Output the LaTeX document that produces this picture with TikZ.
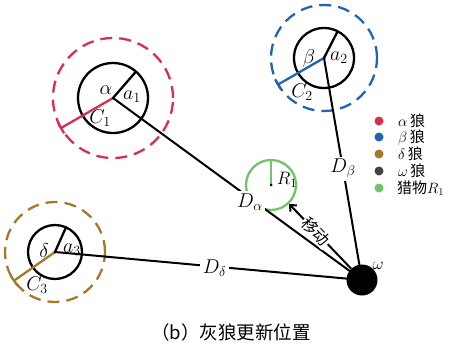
\RequirePackage{fix-cm}
\documentclass[tikz,border=0pt]{standalone}
\usepackage{fontspec}
\newfontfamily\cjk{Noto Sans CJK SC}
\usetikzlibrary{calc,arrows.meta}
\definecolor{alphared}{RGB}{214,48,80}
\definecolor{betablue}{RGB}{34,100,180}
\definecolor{deltabrown}{RGB}{166,120,44}
\definecolor{omegagray}{RGB}{62,66,76}
\definecolor{preygreen}{RGB}{112,198,102}
\begin{document}
\begin{tikzpicture}[x=1pt,y=-1pt,
  wolfring/.style={circle, draw=black, line width=2.3pt, inner sep=0pt},
  searchring/.style={line width=2.3pt, dash pattern=on 12pt off 7pt},
  link/.style={draw=black, line width=2pt},
  radius line/.style={line width=2.3pt},
  mathlbl/.style={font=\fontsize{20}{22}\selectfont, inner sep=0pt},
  dlbl/.style={fill=white, inner sep=2.5pt, font=\fontsize{20}{22}\selectfont},
  legdot/.style={circle, inner sep=0pt, minimum size=9pt},
  legtxt/.style={anchor=west, inner sep=0pt, font=\fontsize{15}{16}\selectfont\cjk},
  centerdot/.style={circle, fill=black, inner sep=0pt, minimum size=3pt}
]
\useasboundingbox (0,0) rectangle (452,348);

% search ranges (dashed)
\draw[searchring, alphared] (113,98) circle[radius=60pt];
\draw[searchring, betablue] (324,58) circle[radius=53pt];
\draw[searchring, deltabrown] (55,252) circle[radius=50pt];

% leader wolves
\node[wolfring, minimum size=70pt] (A) at (113,98) {};
\node[wolfring, minimum size=60pt] (B) at (324,58) {};
\node[wolfring, minimum size=54pt] (Dl) at (55,252) {};

% C radii with end ticks
\draw[radius line, alphared] (A.center) -- ($(A.center)+(150:60)$);
\draw[radius line, alphared] ($(A.center)+(150:60)+(60:6)$) -- ($(A.center)+(150:60)+(240:6)$);
\draw[radius line, betablue] (B.center) -- ($(B.center)+(150:53)$);
\draw[radius line, betablue] ($(B.center)+(150:53)+(60:6)$) -- ($(B.center)+(150:53)+(240:6)$);
\draw[radius line, deltabrown] (Dl.center) -- ($(Dl.center)+(145:50)$);
\draw[radius line, deltabrown] ($(Dl.center)+(145:50)+(55:6)$) -- ($(Dl.center)+(145:50)+(235:6)$);

% a radii
\draw[radius line] (A.center) -- ($(A.center)+(-49:35)$);
\draw[radius line] (B.center) -- ($(B.center)+(-63:30)$);
\draw[radius line] (Dl.center) -- ($(Dl.center)+(-66:27)$);

% prey
\node[circle, draw=preygreen, line width=2.3pt, minimum size=50pt, inner sep=0pt] (P) at (271,185) {};
\draw[preygreen, line width=2pt] (P.center) -- (P.north);
\node[centerdot] at (P.center) {};

% omega wolf
\node[circle, fill=black, minimum size=31pt, inner sep=0pt] (W) at (362,280) {};

% distances to omega
\draw[link] (A.center) -- (W.center) node[dlbl, pos=0.55, yshift=-4pt] {$D_\alpha$};
\draw[link] (B.center) -- (W.center) node[dlbl, pos=0.5] {$D_\beta$};
\draw[link] (Dl.center) -- (W.center) node[dlbl, pos=0.52, yshift=-2pt] {$D_\delta$};

% movement towards prey
\draw[link, -{Straight Barb[length=5pt,width=9pt]}] (W) -- (P)
  node[pos=0.57, sloped, fill=white, inner sep=1pt, font=\fontsize{16}{17}\selectfont\cjk] {移动};

\node[centerdot] at (A.center) {};
\node[centerdot] at (B.center) {};
\node[centerdot] at (Dl.center) {};

% labels
\node[mathlbl] (la) at (106,90) {$\alpha$};
\node[mathlbl] (la1) at (132,97) {$a_1$};
\node[mathlbl] (lc1) at (100,118) {$C_1$};
\node[mathlbl] (lb) at (309,58) {$\beta$};
\node[mathlbl] (la2) at (339,58) {$a_2$};
\node[mathlbl] (lc2) at (302,92) {$C_2$};
\node[mathlbl] (ld) at (44,251) {$\delta$};
\node[mathlbl] (la3) at (72,250) {$a_3$};
\node[mathlbl] (lc3) at (37,285) {$C_3$};
\node[mathlbl, font=\fontsize{18}{20}\selectfont] (lr) at (287,180) {$R_1$};
\node[mathlbl, font=\fontsize{17}{19}\selectfont] (lw) at (378,266) {$\omega$};

% legend
\node[legdot, fill=alphared] (g1) at (379,121) {};
\node[legdot, fill=betablue] (g2) at (379,137) {};
\node[legdot, fill=deltabrown] (g3) at (379,154) {};
\node[legdot, fill=omegagray] (g4) at (379,171) {};
\node[legdot, fill=preygreen] (g5) at (379,188) {};
\node[legtxt] (t1) at (398,121) {$\alpha$\,狼};
\node[legtxt] (t2) at (398,137.5) {$\beta$\,狼};
\node[legtxt] (t3) at (398,154) {$\delta$\,狼};
\node[legtxt] (t4) at (398,171) {$\omega$\,狼};
\node[legtxt] (t5) at (397,188) {猎物$R_1$};

% caption
\node[font=\fontsize{18.5}{20}\selectfont\cjk] (cap) at (231,332) {（b）灰狼更新位置};
\end{tikzpicture}
\end{document}
